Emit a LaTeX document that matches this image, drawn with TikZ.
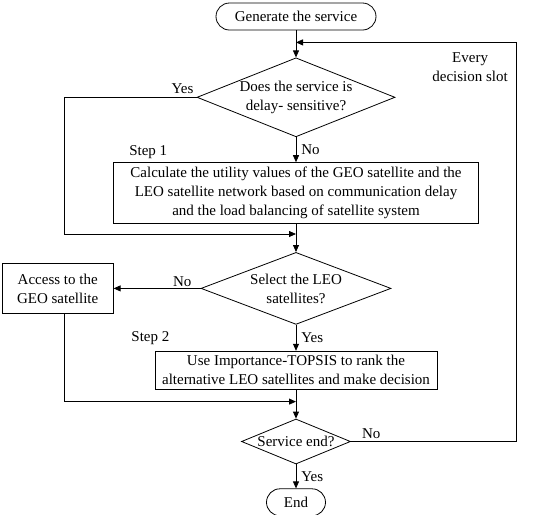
\documentclass[tikz,border=0pt]{standalone}
\usepackage{fontspec}
\setmainfont{Liberation Serif}
\usepackage{tikz}
\usetikzlibrary{arrows.meta,positioning,shapes.geometric}

\begin{document}
\begin{tikzpicture}[x=1pt, y=1pt, node distance=26pt,
    every node/.style={font=\fontsize{15}{19}\selectfont},
    box/.style={draw, line width=0.8pt, align=center, inner xsep=2pt, inner ysep=3pt},
    term/.style={draw, line width=0.8pt, rounded corners=13.5pt, minimum height=27pt, inner sep=2pt},
    decide/.style={draw, line width=0.8pt, diamond, align=center, aspect=2.5, inner xsep=-15pt, inner ysep=-5pt},
    flow/.style={-{Triangle[length=7pt, width=6pt]}, line width=0.8pt},
    lbl/.style={inner sep=0pt, align=center}]
    \useasboundingbox (0,0) rectangle (550,-515);
    \node[term, minimum width=160pt] (start) at (296,-16.5) {Generate the service};
    \node[decide, minimum width=198pt, minimum height=79pt, below=27pt of start] (dslot) {Does the service is\\delay- sensitive?};
    \node[box, minimum width=365pt, minimum height=61pt, below=25pt of dslot] (util) {Calculate the utility values of the GEO satellite and the\\LEO satellite network based on communication delay\\and the load balancing of satellite system};
    \node[decide, minimum width=190pt, minimum height=72pt, below=28pt of util] (leo) {Select the LEO\\satellites?};
    \node[box, minimum width=111pt, minimum height=50pt, left=87pt of leo] (geo) {Access to the\\GEO satellite};
    \node[box, minimum width=282pt, minimum height=38pt, below=26pt of leo] (topsis) {Use Importance-TOPSIS to rank the\\alternative LEO satellites and make decision};
    \node[decide, minimum width=109pt, minimum height=45pt, below=29pt of topsis] (fin) {Service end?};
    \node[term, minimum width=59pt, below=24pt of fin] (stop) {End};
    % junctions on the main line
    \coordinate[below=12pt of start] (j1);
    \coordinate[below=10pt of util] (j2);
    \coordinate[below=12pt of topsis] (j3);
    \coordinate (turn) at ([xshift=220pt]j1);
    \coordinate (lane) at ([xshift=-232pt]j2);
    % main line
    \draw[flow] (start) -- (dslot);
    \draw[flow] (dslot) -- node[lbl, right=5pt] {No} (util);
    \draw[flow] (util) -- (leo);
    \draw[flow] (leo) -- node[lbl, right=5pt] {Yes} (topsis);
    \draw[flow] (topsis) -- (fin);
    \draw[flow] (fin) -- node[lbl, right=5pt] {Yes} (stop);
    % side branches
    \draw[flow] (dslot.west) -| (lane) -- (j2);
    \draw[flow] (leo.west) -- (geo.east);
    \draw[flow] (geo.south -| lane) |- (j3);
    \draw[flow] (fin.east) -| (turn) -- (j1);
    % labels
    \node[lbl, above left=3pt and 3pt of dslot.west] {Yes};
    \node[lbl, above left=2pt and 9pt of leo.west] {No};
    \node[lbl, above right=2.5pt and 11pt of fin.east] {No};
    \node[lbl, below left=10pt and 8pt of turn] {Every\\decision slot};
    \node[lbl, above right=3pt and 16pt of util.north west] {Step 1};
    \node[lbl, above left=6pt and -15pt of topsis.north west] {Step 2};
\end{tikzpicture}
\end{document}
